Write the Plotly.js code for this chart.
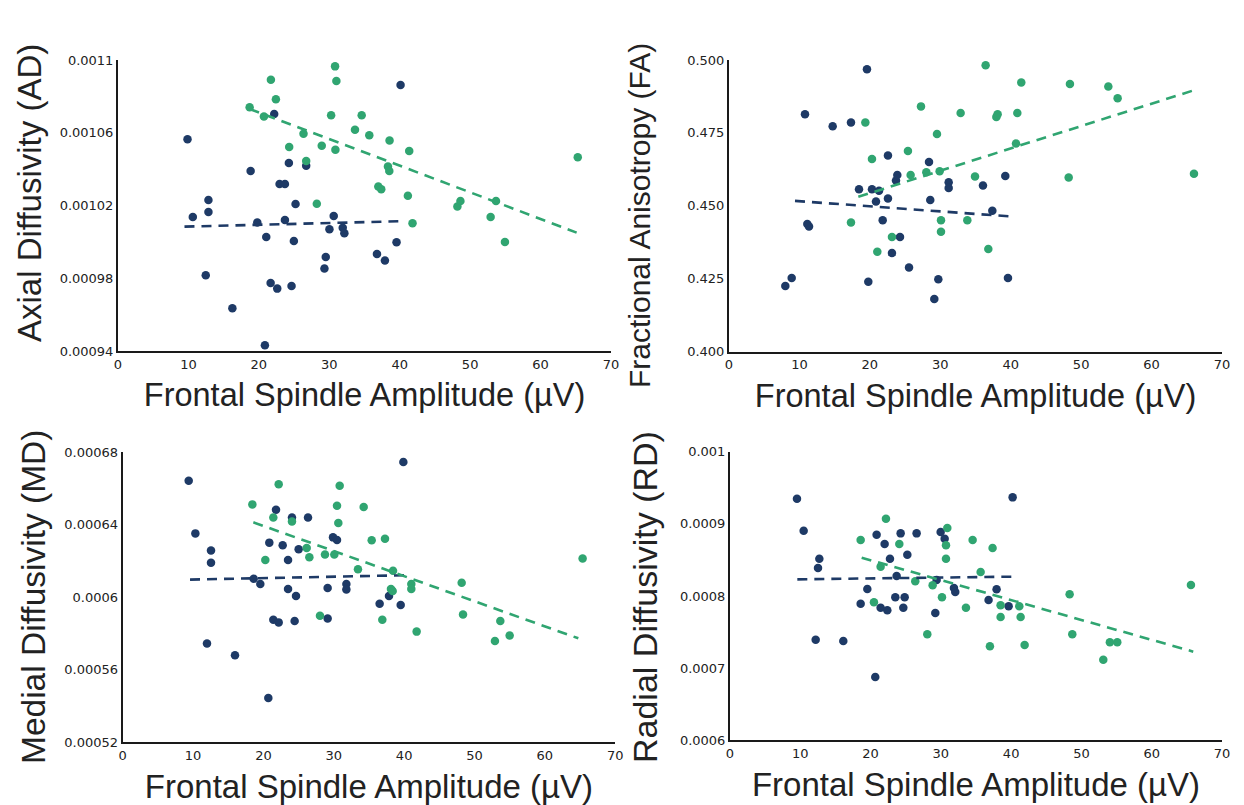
<!DOCTYPE html>
<html>
<head>
<meta charset="utf-8">
<script src="https://cdn.plot.ly/plotly-3.0.1.min.js"></script>
<style>html,body{margin:0;padding:0;background:#fff;}#chart{width:1244px;height:805px;}</style>
</head>
<body>
<div id="chart"></div>
<script>
// ---------- data ----------
const xTickVals = [0, 10, 20, 30, 40, 50, 60, 70];
const xTitle = 'Frontal Spindle Amplitude (µV)';

// Axial diffusivity (AD)
const adNavyX = [9.87,10.62,12.84,12.84,12.46,16.24,18.83,19.78,21.05,20.86,21.67,22.61,22.18,22.94,23.70,23.70,24.26,24.64,24.97,25.21,26.72,29.31,29.50,30.02,30.63,31.91,32.14,36.77,37.90,39.55,40.12];
const adNavyY = [0.0010564,0.0010137,0.0010230,0.0010164,0.0009816,0.0009635,0.0010390,0.0010107,0.0010027,0.0009431,0.0009774,0.0009743,0.0010703,0.0010318,0.0010318,0.0010120,0.0010434,0.0009757,0.0010005,0.0010208,0.0010419,0.0009853,0.0009917,0.0010069,0.0010142,0.0010078,0.0010047,0.0009933,0.0009897,0.0009998,0.0010863];
const adGreenX = [18.69,20.72,21.71,22.42,24.31,26.34,26.72,28.23,28.93,30.26,30.82,31.01,30.87,33.65,34.60,35.68,36.96,37.38,38.33,38.52,38.56,41.16,41.35,41.82,48.19,48.62,52.91,53.67,54.94,65.28];
const adGreenY = [0.0010740,0.0010689,0.0010892,0.0010784,0.0010522,0.0010595,0.0010445,0.0010210,0.0010529,0.0010696,0.0010965,0.0010885,0.0010507,0.0010617,0.0010696,0.0010586,0.0010304,0.0010289,0.0010414,0.0010390,0.0010558,0.0010254,0.0010500,0.0010102,0.0010195,0.0010225,0.0010137,0.0010225,0.0009999,0.0010465];
const adNavyFitX = [9.44, 39.8];
const adNavyFitY = [0.0010084, 0.0010113];
const adGreenFitX = [18.69, 65.12];
const adGreenFitY = [0.0010731, 0.0010051];
const adTickVals = [0.00094, 0.00098, 0.00102, 0.00106, 0.0011];
const adTickText = ['0.00094', '0.00098', '0.00102', '0.00106', '0.0011'];
const adTitle = 'Axial Diffusivity (AD)';

// Fractional anisotropy (FA)
const faNavyX = [8.00,8.90,10.79,11.12,11.36,14.72,17.32,18.46,19.59,19.78,20.30,20.87,21.30,21.82,22.57,22.57,23.14,23.71,23.90,24.28,25.56,28.40,28.58,29.15,29.72,31.19,31.19,36.06,37.39,39.23,39.61];
const faNavyY = [0.4225,0.4253,0.4814,0.4438,0.4429,0.4773,0.4786,0.4557,0.4968,0.4240,0.4557,0.4515,0.4552,0.4451,0.4673,0.4525,0.4338,0.4587,0.4606,0.4393,0.4289,0.4650,0.4520,0.4181,0.4248,0.4581,0.4561,0.4570,0.4483,0.4602,0.4253];
const faGreenX = [17.32,19.36,20.30,21.06,23.14,25.41,25.79,27.26,28.02,29.53,29.91,30.10,30.10,32.89,33.84,34.93,36.44,36.82,37.96,38.14,40.75,40.94,41.50,48.23,48.41,53.86,55.18,66.02];
const faGreenY = [0.4443,0.4786,0.4661,0.4343,0.4393,0.4688,0.4606,0.4841,0.4615,0.4746,0.4619,0.4451,0.4411,0.4818,0.4451,0.4601,0.4982,0.4352,0.4805,0.4814,0.4714,0.4818,0.4923,0.4597,0.4918,0.4909,0.4869,0.4610];
const faNavyFitX = [9.37, 40.37];
const faNavyFitY = [0.4517, 0.4463];
const faGreenFitX = [18.36, 65.83];
const faGreenFitY = [0.4531, 0.4895];
const faTickVals = [0.4, 0.425, 0.45, 0.475, 0.5];
const faTickText = ['0.400', '0.425', '0.450', '0.475', '0.500'];
const faTitle = 'Fractional Anisotropy (FA)';

// Medial diffusivity (MD)
const mdNavyX = [9.38,10.33,11.98,12.55,12.55,15.96,18.62,19.56,20.70,20.84,21.41,21.79,22.17,22.74,23.50,23.50,24.06,24.44,24.63,25.01,26.34,29.13,29.13,29.89,30.46,31.79,31.79,36.52,37.85,39.51,39.89];
const mdNavyY = [0.0006642,0.0006351,0.0005743,0.0006256,0.0006189,0.0005678,0.0006101,0.0006072,0.0005443,0.0006300,0.0005875,0.0006482,0.0005860,0.0006285,0.0006204,0.0006044,0.0006438,0.0005868,0.0006006,0.0006263,0.0006438,0.0006050,0.0005882,0.0006329,0.0006315,0.0006072,0.0006042,0.0005963,0.0006006,0.0005956,0.0006745];
const mdGreenX = [18.43,20.27,21.41,22.17,24.06,26.15,26.53,28.04,28.75,30.08,30.46,30.65,30.84,33.44,34.25,35.39,36.90,37.28,38.13,38.37,38.42,41.02,41.02,41.78,48.18,48.37,52.91,53.67,55.00,65.37];
const mdGreenY = [0.0006511,0.0006204,0.0006438,0.0006622,0.0006416,0.0006270,0.0006219,0.0005897,0.0006234,0.0006234,0.0006504,0.0006408,0.0006614,0.0006153,0.0006497,0.0006313,0.0005875,0.0006322,0.0006044,0.0006033,0.0006145,0.0006072,0.0006044,0.0005809,0.0006079,0.0005904,0.0005757,0.0005868,0.0005787,0.0006212];
const mdNavyFitX = [9.57, 40.12];
const mdNavyFitY = [0.0006096, 0.0006120];
const mdGreenFitX = [18.57, 64.76];
const mdGreenFitY = [0.0006412, 0.0005772];
const mdTickVals = [0.00052, 0.00056, 0.0006, 0.00064, 0.00068];
const mdTickText = ['0.00052', '0.00056', '0.0006', '0.00064', '0.00068'];
const mdTitle = 'Medial Diffusivity (MD)';

// Radial diffusivity (RD)
const rdNavyX = [9.53,10.48,12.19,12.52,12.71,16.12,18.59,19.54,20.67,20.86,21.43,22.00,22.38,22.76,23.52,23.71,24.28,24.66,24.85,25.23,26.55,29.21,29.40,29.97,30.54,31.86,32.05,36.79,37.93,39.64,40.21];
const rdNavyY = [0.0009349,0.0008905,0.0007395,0.0008388,0.0008517,0.0007376,0.0007894,0.0008097,0.0006878,0.0008850,0.0007838,0.0008721,0.0007801,0.0008517,0.0007982,0.0008277,0.0008868,0.0007838,0.0007982,0.0008573,0.0008868,0.0007764,0.0008222,0.0008887,0.0008794,0.0008111,0.0008055,0.0007945,0.0008092,0.0007857,0.0009367];
const rdGreenX = [18.59,20.48,21.43,22.19,24.09,26.36,28.07,28.83,30.16,30.73,30.73,30.92,33.57,34.52,35.66,36.98,37.36,38.50,38.50,41.16,41.35,41.92,48.32,48.70,53.11,54.05,55.10,65.58];
const rdGreenY = [0.0008776,0.0007912,0.0008407,0.0009072,0.0008721,0.0008203,0.0007469,0.0008148,0.0007982,0.0008702,0.0008517,0.0008942,0.0007838,0.0008776,0.0008333,0.0007303,0.0008665,0.0007871,0.0007709,0.0007857,0.0007709,0.0007321,0.0008023,0.0007469,0.0007118,0.0007358,0.0007358,0.0008152];
const rdNavyFitX = [9.58, 40.21];
const rdNavyFitY = [0.0008231, 0.0008268];
const rdGreenFitX = [18.73, 65.91];
const rdGreenFitY = [0.0008531, 0.0007229];
const rdTickVals = [0.0006, 0.0007, 0.0008, 0.0009, 0.001];
const rdTickText = ['0.0006', '0.0007', '0.0008', '0.0009', '0.001'];
const rdTitle = 'Radial Diffusivity (RD)';

// ---------- styling ----------
const NAVY = '#1e3a66';
const GREEN = '#30a571';
const FONT = 'Liberation Sans, Arial, Helvetica, sans-serif';
const TICKFONT = 'DejaVu Sans, Liberation Sans, sans-serif';
const W = 1244, H = 805;

function pts(x, y, color, xa, ya) {
  return {type: 'scatter', mode: 'markers', x: x, y: y, xaxis: xa, yaxis: ya,
    marker: {color: color, size: 8.5, line: {width: 0}}, cliponaxis: false, hoverinfo: 'x+y', showlegend: false};
}
function fit(x, y, color, xa, ya) {
  return {type: 'scatter', mode: 'lines', x: x, y: y, xaxis: xa, yaxis: ya,
    line: {color: color, width: 2.6, dash: '10px,7px'}, cliponaxis: false, hoverinfo: 'skip', showlegend: false};
}

const traces = [
  pts(adNavyX, adNavyY, NAVY, 'x', 'y'), pts(adGreenX, adGreenY, GREEN, 'x', 'y'),
  fit(adNavyFitX, adNavyFitY, NAVY, 'x', 'y'), fit(adGreenFitX, adGreenFitY, GREEN, 'x', 'y'),
  pts(faNavyX, faNavyY, NAVY, 'x2', 'y2'), pts(faGreenX, faGreenY, GREEN, 'x2', 'y2'),
  fit(faNavyFitX, faNavyFitY, NAVY, 'x2', 'y2'), fit(faGreenFitX, faGreenFitY, GREEN, 'x2', 'y2'),
  pts(mdNavyX, mdNavyY, NAVY, 'x3', 'y3'), pts(mdGreenX, mdGreenY, GREEN, 'x3', 'y3'),
  fit(mdNavyFitX, mdNavyFitY, NAVY, 'x3', 'y3'), fit(mdGreenFitX, mdGreenFitY, GREEN, 'x3', 'y3'),
  pts(rdNavyX, rdNavyY, NAVY, 'x4', 'y4'), pts(rdGreenX, rdGreenY, GREEN, 'x4', 'y4'),
  fit(rdNavyFitX, rdNavyFitY, NAVY, 'x4', 'y4'), fit(rdGreenFitX, rdGreenFitY, GREEN, 'x4', 'y4')
];

function xAxis(left, right, anchor, titleSize) {
  return {domain: [left / W, right / W], anchor: anchor, range: [0, 70], tickvals: xTickVals,
    showgrid: false, zeroline: false, showline: true, linecolor: '#1a1a1a', linewidth: 2, ticks: '',
    tickfont: {family: TICKFONT, size: 13, color: '#222'}, fixedrange: true,
    title: {text: xTitle, font: {family: FONT, size: titleSize, color: '#222'}, standoff: 13}};
}
function yAxis(bottom, top, anchor, range, vals, text) {
  return {domain: [1 - bottom / H, 1 - top / H], anchor: anchor, range: range, tickvals: vals, ticktext: text,
    showgrid: false, zeroline: false, showline: true, linecolor: '#1a1a1a', linewidth: 2, ticks: '',
    tickfont: {family: TICKFONT, size: 13, color: '#222'}, fixedrange: true};
}
// y-axis titles placed as rotated text (paper coordinates, px converted)
function yTitle(text, cx, cy, size) {
  return {text: text, xref: 'paper', yref: 'paper', x: cx / W, y: 1 - cy / H,
    xanchor: 'center', yanchor: 'middle', textangle: -90, showarrow: false,
    font: {family: FONT, size: size, color: '#222'}};
}

const layout = {
  width: W, height: H, margin: {l: 0, r: 0, t: 0, b: 0},
  paper_bgcolor: '#fff', plot_bgcolor: '#fff', showlegend: false,
  font: {family: FONT, color: '#222'},
  xaxis: xAxis(118, 611, 'y', 32.5),
  yaxis: yAxis(351, 60, 'x', [0.00094, 0.0011], adTickVals, adTickText),
  xaxis2: xAxis(729, 1222, 'y2', 32.5),
  yaxis2: yAxis(351.7, 60, 'x2', [0.4, 0.5], faTickVals, faTickText),
  xaxis3: xAxis(122.7, 615.2, 'y3', 33),
  yaxis3: yAxis(742, 452, 'x3', [0.00052, 0.00068], mdTickVals, mdTickText),
  xaxis4: xAxis(730, 1222, 'y4', 33),
  yaxis4: yAxis(740.3, 451.7, 'x4', [0.0006, 0.001], rdTickVals, rdTickText),
  annotations: [
    yTitle(adTitle, 30, 193, 33),
    yTitle(faTitle, 640, 216, 30),
    yTitle(mdTitle, 33, 597, 33.5),
    yTitle(rdTitle, 645, 597, 34)
  ]
};

Plotly.newPlot('chart', traces, layout, {displayModeBar: false, staticPlot: true});
</script>
</body>
</html>
